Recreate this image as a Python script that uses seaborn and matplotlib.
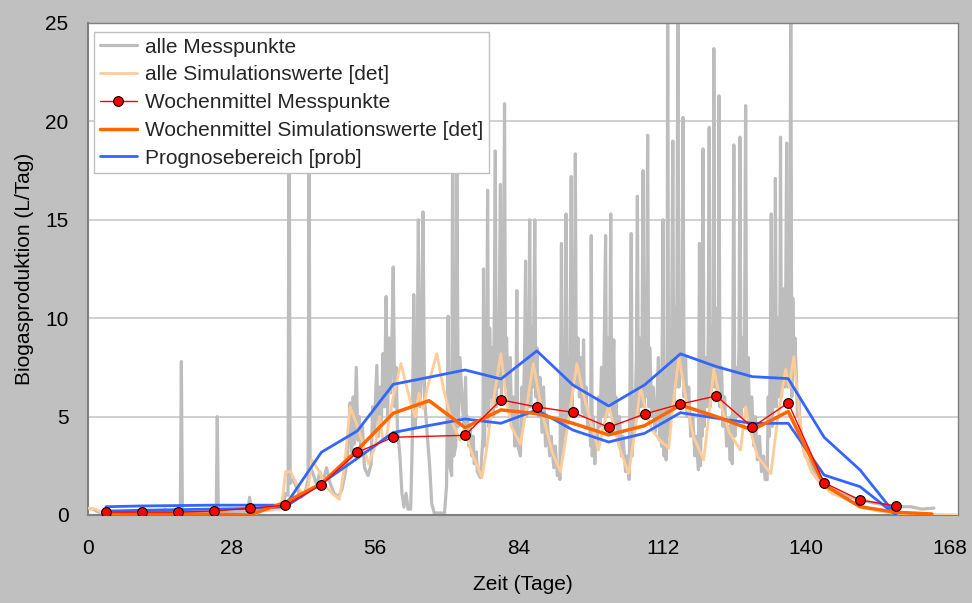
import numpy as np
import pandas as pd
import matplotlib
matplotlib.use("Agg")
import matplotlib.pyplot as plt
from matplotlib.lines import Line2D
import seaborn as sns

# ---------------- data ----------------
week_days = [3.5, 10.5, 17.5, 24.5, 31.5, 38.5, 45.5, 52.5, 59.5, 66.5, 73.5, 80.5,
             87.5, 94.5, 101.5, 108.5, 115.5, 122.5, 129.5, 136.5, 143.5, 150.5, 157.5]

# weekly mean of measurements (no value in week 66.5)
meas_week_days = [3.5, 10.5, 17.5, 24.5, 31.5, 38.5, 45.5, 52.5, 59.5, 73.5, 80.5,
                  87.5, 94.5, 101.5, 108.5, 115.5, 122.5, 129.5, 136.5, 143.5, 150.5, 157.5]
meas_week_vals = [0.15, 0.15, 0.15, 0.20, 0.34, 0.50, 1.53, 3.19, 3.95, 4.05, 5.85,
                  5.49, 5.22, 4.46, 5.13, 5.64, 6.05, 4.46, 5.70, 1.64, 0.76, 0.46]

sim_week_days = week_days + [164.5]
sim_week_vals = [0.10, 0.08, 0.06, 0.04, 0.00, 0.65, 1.60, 3.30, 5.17, 5.81, 4.44, 5.34,
                 5.15, 4.66, 4.07, 4.54, 5.59, 5.00, 4.32, 5.26, 1.53, 0.42, 0.14, 0.05]

prog_upper = [0.42, 0.46, 0.48, 0.50, 0.50, 0.50, 3.19, 4.27, 6.64, 7.00, 7.37, 6.91,
              8.34, 6.61, 5.54, 6.61, 8.19, 7.54, 7.03, 6.93, 3.95, 2.29, 0.00]
prog_lower = [0.20, 0.24, 0.27, 0.30, 0.33, 0.42, 1.61, 2.88, 4.19, 4.55, 4.88, 4.66,
              5.34, 4.32, 3.71, 4.15, 5.20, 4.92, 4.66, 4.66, 2.03, 1.44, 0.00]

# all simulated values (light orange)
sim_all_days = [0.0, 1.5, 3.0, 5.0, 31.5, 33.0, 34.0, 37.5, 38.0, 38.5, 39.5, 40.8, 42.0,
                43.0, 43.6, 44.9, 46.5, 48.0, 49.0, 50.0, 51.1, 52.8, 54.7, 56.0, 56.8,
                57.5, 58.2, 59.5, 61.0, 62.9, 63.8, 64.5, 65.3, 66.2, 68.0, 69.3, 71.0,
                72.5, 73.5, 74.3, 76.8, 77.8, 78.5, 79.7, 80.5, 81.5, 82.5, 84.3, 85.5,
                86.8, 88.0, 88.8, 90.5, 92.1, 93.5, 95.3, 96.5, 97.5, 99.5, 100.5, 101.5,
                102.5, 103.5, 105.4, 106.5, 107.7, 108.8, 110.0, 111.5, 113.2, 114.0,
                115.2, 116.5, 118.0, 120.0, 121.0, 122.0, 123.5, 125.0, 127.2, 128.2,
                129.0, 130.5, 133.1, 134.5, 136.0, 136.7, 137.6, 138.5, 139.5, 141.0,
                142.8, 145.0, 147.4, 150.6, 154.0, 157.0, 162.0, 169.6]
sim_all_vals = [0.35, 0.30, 0.10, 0.03, 0.00, 0.10, 0.20, 0.30, 1.00, 2.20, 2.20, 1.50, 1.00,
                1.50, 2.80, 2.30, 1.40, 1.00, 0.80, 2.50, 5.50, 4.30, 2.60, 3.50, 5.00,
                3.80, 4.00, 6.00, 7.70, 5.70, 5.00, 6.20, 5.40, 6.50, 8.20, 6.40, 4.70,
                3.80, 4.50, 3.50, 1.90, 3.50, 5.00, 6.90, 8.20, 6.00, 4.50, 3.60, 5.50,
                7.70, 6.00, 4.90, 3.20, 2.20, 4.50, 7.70, 6.20, 5.20, 3.30, 4.50, 5.60,
                4.50, 3.50, 2.10, 4.00, 6.50, 5.20, 4.30, 3.80, 3.40, 5.50,
                8.05, 6.00, 4.00, 2.80, 5.00, 7.40, 5.50, 4.20, 3.30, 5.50,
                4.40, 3.00, 2.10, 5.00, 7.40, 6.50, 8.05, 5.50, 3.30, 2.20,
                1.60, 1.10, 0.86, 0.42, 0.20, 0.10, 0.04, 0.00]

# all measured values (grey): peaks and base points as (day, value)
meas_peaks = [
    (0.0, 0.35), (1.0, 0.30), (2.0, 0.15), (4.0, 0.10), (8.0, 0.12), (12.0, 0.10),
    (14.8, 0.12), (15.0, 0.30), (15.3, 0.12), (18.0, 0.10), (18.2, 7.8), (18.4, 0.15),
    (21.0, 0.10), (25.0, 0.12), (25.2, 5.0), (25.4, 0.15), (28.0, 0.15), (31.2, 0.20),
    (31.5, 0.90), (31.8, 0.20), (34.0, 0.25), (36.0, 0.30), (38.0, 0.40), (38.5, 1.10),
    (39.0, 1.00), (39.2, 24.0), (39.4, 1.60), (40.0, 1.80), (40.8, 1.30), (41.5, 0.90),
    (42.3, 1.10), (42.9, 1.80), (43.1, 19.0), (43.3, 2.50), (44.0, 2.00), (44.6, 1.50),
    (45.2, 2.20), (45.8, 1.70), (46.5, 2.40), (47.2, 1.60), (48.0, 1.10), (48.8, 0.90),
    (49.5, 1.30), (50.2, 2.20),
    (50.6, 3.0), (51.1, 5.7), (51.4, 3.2), (51.9, 3.6), (52.3, 7.5), (52.6, 3.8),
    (53.2, 3.2), (53.9, 2.4), (54.6, 2.0), (55.2, 2.6), (55.8, 4.2), (56.3, 7.6),
    (56.6, 4.0), (57.2, 4.8), (57.8, 5.5), (58.1, 11.1), (58.4, 5.0), (59.0, 6.2),
    (59.5, 12.6), (59.8, 5.5), (60.3, 4.5), (60.8, 3.0), (61.2, 1.1), (61.6, 0.4),
    (62.0, 1.1), (62.4, 0.3), (62.9, 0.3), (63.2, 3.5), (63.5, 11.2), (63.8, 4.5),
    (64.1, 6.0), (64.4, 15.0), (64.7, 5.5), (65.0, 7.0), (65.3, 15.4), (65.6, 6.0),
    (66.1, 4.2), (66.6, 2.5), (67.0, 0.6), (67.5, 0.1), (68.5, 0.1), (69.5, 0.1),
    (69.9, 1.5), (70.2, 10.1), (70.5, 2.5), (70.9, 2.0), (71.1, 21.5), (71.3, 3.0),
    (71.7, 3.5), (71.9, 17.5), (72.2, 4.5), (72.8, 6.5), (73.3, 4.5), (73.8, 4.3),
    (74.2, 3.5), (74.8, 3.0), (75.3, 2.6), (75.9, 2.2), (76.5, 1.9),
    (77.0, 4.0), (77.1, 12.5), (77.3, 3.5), (77.7, 5.0), (77.9, 16.5), (78.1, 4.5),
    (78.6, 6.0), (79.0, 5.0), (79.4, 18.5), (79.6, 5.5), (80.0, 6.5), (80.4, 16.8),
    (80.6, 6.0), (80.9, 7.0), (81.2, 20.9), (81.4, 6.5), (82.0, 5.5), (82.6, 4.5),
    (83.2, 3.5), (83.6, 11.4), (83.8, 3.5), (84.3, 3.0), (84.8, 4.5), (85.3, 12.9),
    (85.5, 5.0), (85.9, 5.5), (86.1, 15.0), (86.3, 5.5), (86.7, 6.5), (87.1, 15.0),
    (87.3, 6.0), (87.8, 5.0), (88.5, 4.2), (89.2, 3.5), (90.0, 3.0), (90.8, 2.4),
    (91.5, 2.0), (92.0, 1.8), (92.3, 13.8), (92.5, 3.0), (92.9, 4.0), (93.2, 15.3),
    (93.4, 4.5), (93.9, 5.5), (94.2, 17.2), (94.4, 5.5), (94.8, 6.5), (95.0, 18.35),
    (95.2, 6.5), (95.8, 6.0), (96.4, 5.2), (96.6, 8.9), (96.8, 5.0), (97.4, 4.5),
    (98.0, 3.5), (98.1, 14.2), (98.3, 3.0), (98.8, 2.6), (99.3, 3.5), (99.8, 4.5),
    (100.4, 5.0), (100.9, 14.2), (101.1, 5.0), (101.6, 5.5), (101.9, 15.3), (102.1, 5.0),
    (102.5, 8.9), (102.7, 4.5), (103.3, 3.8), (104.0, 3.0), (104.8, 2.2), (105.5, 1.8),
    (105.9, 14.3), (106.1, 3.0), (106.6, 4.5), (107.1, 16.2), (107.3, 5.0), (107.8, 5.5),
    (108.2, 17.5), (108.4, 5.5), (108.8, 6.0), (109.1, 19.3), (109.3, 5.5), (109.9, 5.0),
    (110.5, 4.2), (111.2, 8.0), (111.4, 3.8), (111.8, 3.5), (112.1, 15.0), (112.3, 3.0),
    (112.7, 2.8), (113.0, 27.0), (113.2, 4.0), (113.6, 5.0), (114.0, 19.0), (114.2, 5.5),
    (114.6, 6.5), (115.0, 27.0), (115.2, 6.5), (115.6, 7.0), (116.0, 20.2), (116.2, 6.0),
    (116.8, 5.0), (117.5, 4.0), (118.3, 3.0), (119.0, 2.3), (119.2, 13.8), (119.4, 2.5),
    (119.7, 4.0), (119.9, 18.6), (120.1, 4.5), (120.7, 5.5), (121.1, 19.7), (121.3, 5.5),
    (121.7, 6.5), (122.0, 23.7), (122.2, 6.5), (122.7, 6.0), (123.0, 21.3), (123.2, 5.5),
    (123.8, 4.5), (124.5, 3.5), (125.2, 2.8), (125.6, 2.6), (125.9, 18.8), (126.1, 4.0),
    (126.6, 5.0), (127.1, 19.2), (127.3, 5.0), (127.8, 5.5), (128.2, 20.8), (128.4, 5.0),
    (129.0, 4.5), (129.8, 3.5), (130.5, 2.8), (131.3, 2.2), (132.0, 1.8), (132.4, 1.8),
    (132.8, 4.0), (133.2, 15.3), (133.4, 4.5), (133.8, 5.5), (134.0, 17.1), (134.2, 5.5),
    (134.7, 6.0), (135.0, 19.2), (135.2, 6.0), (135.9, 6.5), (136.2, 18.9), (136.4, 6.5),
    (136.8, 7.0), (137.0, 27.0), (137.2, 6.0), (137.6, 7.5), (138.3, 5.0), (138.9, 4.0),
    (139.8, 3.0), (140.9, 2.6), (142.4, 1.8), (143.5, 1.5), (145.4, 1.27), (147.5, 1.0),
    (150.6, 0.76), (153.5, 0.6), (157.0, 0.42), (160.4, 0.42), (162.5, 0.30), (164.9, 0.35),
]
# smaller fluctuations of the dense grey band between the big peaks
meas_band = [
    (50.9, 4.5), (51.7, 6.0), (52.9, 5.0), (53.5, 4.5), (55.5, 5.5), (56.9, 6.5),
    (57.5, 8.2), (58.7, 9.0), (59.2, 8.0), (60.1, 7.5),
    (72.5, 8.0), (73.0, 5.5), (73.6, 7.0), (74.0, 5.0), (74.5, 4.5), (75.1, 4.0), (75.7, 3.2),
    (77.5, 8.0), (78.3, 9.5), (78.8, 8.5), (79.2, 10.0), (79.8, 9.0), (80.2, 11.0),
    (80.8, 9.5), (81.6, 9.0), (81.8, 7.0), (82.3, 8.0), (82.9, 6.0), (83.4, 5.0),
    (84.6, 6.5), (85.1, 8.0), (85.7, 9.0), (86.5, 9.5), (86.9, 10.0), (87.5, 8.5),
    (88.1, 7.0), (88.8, 6.5), (89.5, 5.0), (90.3, 4.0), (91.1, 3.5), (91.8, 2.5),
    (92.7, 7.0), (93.6, 8.0), (94.0, 9.0), (94.6, 10.0), (95.5, 9.0), (96.0, 8.0),
    (96.2, 6.5), (97.1, 6.5), (97.7, 5.0),
    (98.5, 5.0), (99.0, 4.0), (99.6, 6.0), (100.1, 7.5), (100.6, 8.0), (101.3, 9.0),
    (101.7, 7.0), (102.3, 7.0), (102.9, 6.0), (103.6, 5.0), (104.3, 4.0), (105.1, 3.0),
    (106.3, 6.0), (106.9, 8.0), (107.5, 9.0), (108.0, 8.5), (108.6, 10.0), (109.5, 8.5),
    (109.7, 7.0), (110.2, 6.5), (110.8, 5.0), (111.6, 5.5),
    (112.5, 6.0), (112.9, 8.0), (113.4, 9.0), (113.8, 10.0), (114.4, 10.5), (114.8, 11.0),
    (115.4, 10.0), (115.8, 11.0), (116.5, 8.0), (117.1, 6.5), (117.9, 5.0), (118.6, 4.0),
    (119.6, 6.0), (120.4, 8.0), (120.9, 9.0), (121.5, 9.5), (121.9, 10.0), (122.4, 10.5),
    (122.9, 9.0), (123.5, 7.5), (124.1, 6.0), (124.9, 4.5),
    (125.4, 5.0), (126.3, 7.5), (126.9, 8.5), (127.6, 9.0), (128.0, 9.5), (128.7, 8.0),
    (129.4, 6.0), (130.1, 5.0), (130.9, 4.0), (131.7, 3.0),
    (132.6, 6.0), (133.0, 8.0), (133.6, 9.5), (134.4, 10.0), (134.9, 11.0), (135.4, 10.0),
    (135.7, 11.5), (136.6, 12.0), (137.4, 11.0), (137.8, 9.0), (138.1, 7.0), (138.6, 6.0),
]
meas_all = sorted(meas_peaks + meas_band)
meas_all_days = [p[0] for p in meas_all]
meas_all_vals = [p[1] for p in meas_all]

labels = ["alle Messpunkte", "alle Simulationswerte [det]", "Wochenmittel Messpunkte",
          "Wochenmittel Simulationswerte [det]", "Prognosebereich [prob]"]
x_ticks = [0, 28, 56, 84, 112, 140, 168]
y_ticks = [0, 5, 10, 15, 20, 25]

# ---------------- styling ----------------
sns.set_theme(style="white")
plt.rcParams["font.family"] = ["Liberation Sans", "DejaVu Sans"]

FS = 15
fig = plt.figure(figsize=(9.72, 6.03), dpi=100, facecolor="#C0C0C0")
W, H = 972, 603
ax = fig.add_axes([88 / W, 1 - 515 / H, 870 / W, 492 / H])
ax.set_facecolor("white")

grey, lorange, orange, red, blue = "#BDBDBD", "#FFCC99", "#FF6600", "#FF0000", "#3366FF"

sns.lineplot(x=meas_all_days, y=meas_all_vals, ax=ax, color=grey, lw=2.3,
             sort=False, estimator=None, label=labels[0], zorder=2)
sns.lineplot(x=sim_all_days, y=sim_all_vals, ax=ax, color=lorange, lw=2.0,
             sort=False, estimator=None, label=labels[1], zorder=3)
sns.lineplot(x=week_days, y=prog_upper, ax=ax, color=blue, lw=2.0,
             sort=False, estimator=None, zorder=4)
sns.lineplot(x=week_days, y=prog_lower, ax=ax, color=blue, lw=2.0,
             sort=False, estimator=None, zorder=4)
sns.lineplot(x=sim_week_days, y=sim_week_vals, ax=ax, color=orange, lw=2.5,
             sort=False, estimator=None, label=labels[3], zorder=5)
sns.lineplot(x=meas_week_days, y=meas_week_vals, ax=ax, color=red, lw=1.0,
             marker="o", markersize=7, markerfacecolor=red, markeredgecolor="black",
             markeredgewidth=0.8, sort=False, estimator=None, label=labels[2], zorder=6)

ax.set_xlim(0, 169.6)
ax.set_ylim(0, 25)
ax.set_xticks(x_ticks)
ax.set_yticks(y_ticks)
ax.yaxis.grid(True, color="#C8C8C8", lw=1.2)
ax.xaxis.grid(False)
ax.set_axisbelow(True)
for s in ax.spines.values():
    s.set_color("#808080")
    s.set_linewidth(1.0)
ax.spines["left"].set_linewidth(1.5)
ax.spines["bottom"].set_linewidth(1.5)
ax.tick_params(axis="both", direction="out", length=6, width=1, color="#808080",
               labelsize=FS, labelcolor="black")
ax.tick_params(axis="x", pad=11)
ax.tick_params(axis="y", pad=8)

ax.set_xlabel("Zeit (Tage)", fontsize=FS, color="black")
ax.set_ylabel("Biogasproduktion (L/Tag)", fontsize=FS, color="black")
ax.xaxis.set_label_coords(0.5, -0.122)
ax.yaxis.set_label_coords(-0.062, 0.5)

# legend in original order
handles, labs = ax.get_legend_handles_labels()
hmap = dict(zip(labs, handles))
hmap[labels[4]] = Line2D([], [], color=blue, lw=2.0)
leg = ax.legend([hmap[l] for l in labels], labels, loc="upper left",
                bbox_to_anchor=(0.0069, 0.9817), borderaxespad=0, frameon=True,
                fancybox=False, edgecolor="#C0C0C0", framealpha=1, fontsize=FS,
                handlelength=1.8, handletextpad=0.4, labelspacing=0.42, borderpad=0.27)
leg.get_frame().set_linewidth(1.0)
leg.set_zorder(10)

fig.savefig("out.png", dpi=100, facecolor=fig.get_facecolor())
